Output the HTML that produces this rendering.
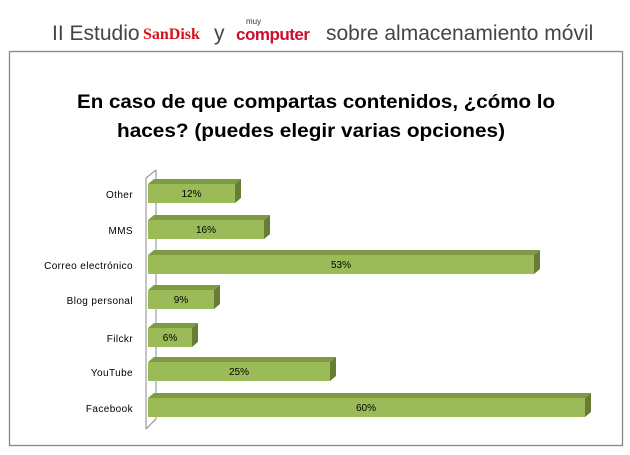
<!DOCTYPE html>
<html><head><meta charset="utf-8"><style>
body{margin:0;width:630px;height:450px;background:#fff;overflow:hidden;font-family:"Liberation Sans","DejaVu Sans",sans-serif}
</style></head><body>
<svg width="630" height="450" xmlns="http://www.w3.org/2000/svg" font-family="Liberation Sans, sans-serif">
<text x="52" y="40" font-size="21" fill="#444">II Estudio</text>
<text x="143" y="39" font-size="16" fill="#d6121c" font-weight="bold" font-family="Liberation Serif, serif">SanDisk</text>
<text x="214" y="40" font-size="21" fill="#444">y</text>
<text x="246" y="24" font-size="8" fill="#333">muy</text>
<text x="236" y="40" font-size="17" fill="#c8102e" font-weight="bold" letter-spacing="-0.5">computer</text>
<text x="326" y="40" font-size="21" fill="#444">sobre almacenamiento móvil</text>
<rect x="9.5" y="51.5" width="613" height="394" fill="#fff" stroke="#888" stroke-width="1.3"/>
<text x="77" y="108" font-size="19" font-weight="bold" fill="#000" textLength="478" lengthAdjust="spacingAndGlyphs">En caso de que compartas contenidos, ¿cómo lo</text>
<text x="117" y="137" font-size="19" font-weight="bold" fill="#000" textLength="388" lengthAdjust="spacingAndGlyphs">haces? (puedes elegir varias opciones)</text>
<g stroke="#888" fill="none" stroke-width="1">
<line x1="146" y1="178" x2="146" y2="429"/>
<line x1="156" y1="170" x2="156" y2="419"/>
<line x1="146" y1="178" x2="156" y2="170"/>
<line x1="146" y1="429" x2="156" y2="419"/>
</g>
<g font-size="10" fill="#000">
<!-- Other -->
<polygon points="148,184 154,179 241,179 235,184" fill="#7f9a45"/>
<polygon points="235,184 241,179 241,198 235,203" fill="#667d33"/>
<rect x="148" y="184" width="87" height="19" fill="#9bbb59"/>
<text x="191.5" y="197" text-anchor="middle">12%</text>
<text x="133" y="198" text-anchor="end" letter-spacing="0.4">Other</text>
<!-- MMS -->
<polygon points="148,220 154,215 270,215 264,220" fill="#7f9a45"/>
<polygon points="264,220 270,215 270,234 264,239" fill="#667d33"/>
<rect x="148" y="220" width="116" height="19" fill="#9bbb59"/>
<text x="206" y="233" text-anchor="middle">16%</text>
<text x="133" y="234" text-anchor="end" letter-spacing="0.4">MMS</text>
<!-- Correo -->
<polygon points="148,255 154,250 540,250 534,255" fill="#7f9a45"/>
<polygon points="534,255 540,250 540,269 534,274" fill="#667d33"/>
<rect x="148" y="255" width="386" height="19" fill="#9bbb59"/>
<text x="341" y="268" text-anchor="middle">53%</text>
<text x="133" y="269" text-anchor="end" letter-spacing="0.4">Correo electrónico</text>
<!-- Blog -->
<polygon points="148,290 154,285 220,285 214,290" fill="#7f9a45"/>
<polygon points="214,290 220,285 220,304 214,309" fill="#667d33"/>
<rect x="148" y="290" width="66" height="19" fill="#9bbb59"/>
<text x="181" y="303" text-anchor="middle">9%</text>
<text x="133" y="304" text-anchor="end" letter-spacing="0.4">Blog personal</text>
<!-- Filckr -->
<polygon points="148,328 154,323 198,323 192,328" fill="#7f9a45"/>
<polygon points="192,328 198,323 198,342 192,347" fill="#667d33"/>
<rect x="148" y="328" width="44" height="19" fill="#9bbb59"/>
<text x="170" y="341" text-anchor="middle">6%</text>
<text x="133" y="342" text-anchor="end" letter-spacing="0.4">Filckr</text>
<!-- YouTube -->
<polygon points="148,362 154,357 336,357 330,362" fill="#7f9a45"/>
<polygon points="330,362 336,357 336,376 330,381" fill="#667d33"/>
<rect x="148" y="362" width="182" height="19" fill="#9bbb59"/>
<text x="239" y="375" text-anchor="middle">25%</text>
<text x="133" y="376" text-anchor="end" letter-spacing="0.4">YouTube</text>
<!-- Facebook -->
<polygon points="148,398 154,393 591,393 585,398" fill="#7f9a45"/>
<polygon points="585,398 591,393 591,412 585,417" fill="#667d33"/>
<rect x="148" y="398" width="437" height="19" fill="#9bbb59"/>
<text x="366" y="411" text-anchor="middle">60%</text>
<text x="133" y="412" text-anchor="end" letter-spacing="0.4">Facebook</text>
</g>
</svg>
</body></html>
